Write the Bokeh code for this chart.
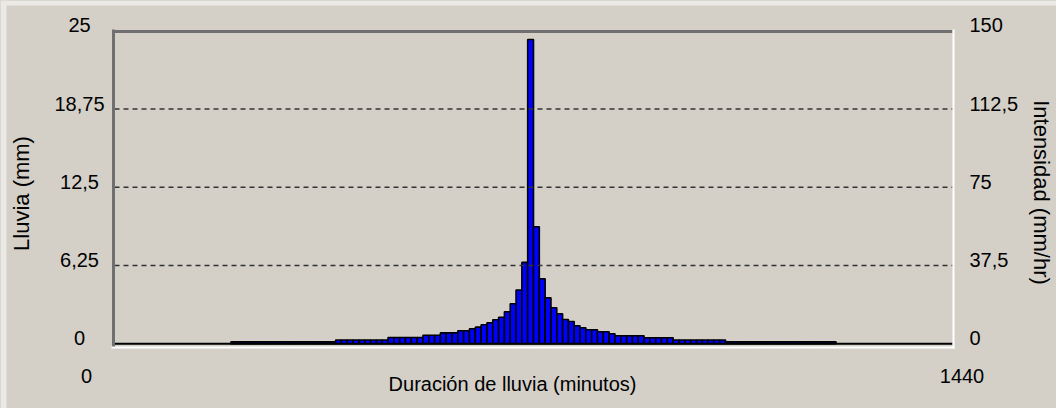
import math
from bokeh.plotting import figure
from bokeh.models import Range1d, Label
from bokeh.embed import file_html
from bokeh.resources import INLINE

# ---------------- data ----------------
block_minutes = 10
block_start = list(range(200, 1240, 10))          # start minute of each 10-min block
rain_mm = (
    [0.15] * 18 + [0.3] * 9 + [0.5] * 6 + [0.68] * 3 + [0.87] * 3 + [1.04] * 2 +
    [1.2, 1.33, 1.52, 1.68, 1.92, 2.12, 2.56, 3.2, 4.3, 6.5,
     24.3,
     9.35, 5.2, 3.67, 2.88, 2.4, 1.94, 1.78, 1.44, 1.28, 1.12, 1.12, 0.96, 0.96, 0.8] +
    [0.64] * 5 + [0.48] * 5 + [0.3] * 9 + [0.15] * 19
)
grid_mm = [6.25, 12.5, 18.75]
left_ticks = [0, 6.25, 12.5, 18.75, 25]
left_tick_labels = ["0", "6,25", "12,5", "18,75", "25"]
right_ticks = [0, 37.5, 75, 112.5, 150]
right_tick_labels = ["0", "37,5", "75", "112,5", "150"]
x_ticks = [0, 1440]
x_tick_labels = ["0", "1440"]
x_title = "Duración de lluvia (minutos)"
y_title = "Lluvia (mm)"
y2_title = "Intensidad (mm/hr)"

# ---------------- layout / style ----------------
BG = "#d4d0c8"
FONT = "Liberation Sans"
FS = "20px"
FS_V = "22px"
W, H = 1056, 408
X_MAX, Y_MAX = 1440, 25
X0_PX, X1_PX = 114, 952          # screen px of x = 0 and x = 1440
Y0_PX, Y1_PX = 343.3, 30.3       # screen px of y = 0 and y = 25
KX = (X1_PX - X0_PX) / X_MAX
KY = (Y0_PX - Y1_PX) / Y_MAX
factor = 60 / block_minutes      # mm per block -> mm/hr


def dx(px):
    return (px - X0_PX) / KX


def dy(py):
    return (Y0_PX - py) / KY


x_range = Range1d(dx(0), dx(W))
y_range = Range1d(dy(H), dy(0))

p = figure(width=W, height=H, x_range=x_range, y_range=y_range,
           output_backend="svg", toolbar_location=None,
           x_axis_location=None, y_axis_location=None,
           min_border=0, min_border_left=0, min_border_right=0,
           min_border_top=0, min_border_bottom=0)
p.extra_y_ranges = {"int": Range1d(y_range.start * factor, y_range.end * factor)}
p.background_fill_color = BG
p.border_fill_color = BG
p.outline_line_color = None
p.grid.visible = False

# raised outer edge (light strip top / left)
p.quad(left=[dx(0)], right=[dx(W)], bottom=[dy(5)], top=[dy(0)],
       fill_color="#ebe9e5", line_color=None)
p.quad(left=[dx(0)], right=[dx(6)], bottom=[dy(H)], top=[dy(0)],
       fill_color="#ebe9e5", line_color=None)

# bars
block_end = [s + block_minutes for s in block_start]
p.quad(left=block_start, right=block_end, bottom=0, top=rain_mm,
       fill_color="#0000ff", line_color="black", line_width=1.6)

# baseline
p.segment(x0=[0], y0=[0], x1=[X_MAX], y1=[0], line_color="black", line_width=2)

# dashed grid lines (drawn above bars)
p.segment(x0=[0] * len(grid_mm), y0=grid_mm, x1=[X_MAX] * len(grid_mm), y1=grid_mm,
          line_color="#333333", line_width=1.6, line_dash="5 4")

# sunken plot frame
p.segment(x0=[dx(113)], y0=[dy(347)], x1=[dx(113)], y1=[dy(29)],
          line_color="#707070", line_width=3)
p.segment(x0=[dx(111.5)], y0=[dy(31)], x1=[dx(952)], y1=[dy(31)],
          line_color="#707070", line_width=3)
p.segment(x0=[dx(953)], y0=[dy(348)], x1=[dx(953)], y1=[dy(29)],
          line_color="white", line_width=2)
p.segment(x0=[dx(111)], y0=[dy(347)], x1=[dx(954)], y1=[dy(347)],
          line_color="white", line_width=2)

common = dict(text_font=FONT, text_font_size=FS, text_color="black")
common_v = dict(text_font=FONT, text_font_size=FS_V, text_color="black")

# left tick labels
for v, t in zip(left_ticks, left_tick_labels):
    p.add_layout(Label(x=0, y=v, x_offset=-35, y_offset=5.5, text=t,
                       text_align="center", text_baseline="middle", **common))
# right tick labels
for v, t in zip(right_ticks, right_tick_labels):
    p.add_layout(Label(x=X_MAX, y=v, y_range_name="int", x_offset=17, y_offset=5.5, text=t,
                       text_align="left", text_baseline="middle", **common))
# x tick labels
for v, t, off in zip(x_ticks, x_tick_labels, [-28, 9.5]):
    p.add_layout(Label(x=v, y=0, x_offset=off, y_offset=-32, text=t,
                       text_align="center", text_baseline="middle", **common))

# axis titles (screen px from the frame's left / bottom edge)
p.add_layout(Label(x=512, y=H - 383, x_units="screen", y_units="screen", text=x_title,
                   text_align="center", text_baseline="middle", **common))
p.add_layout(Label(x=21, y=H - 193, x_units="screen", y_units="screen", text=y_title,
                   angle=math.pi / 2, text_align="center", text_baseline="middle", **common_v))
p.add_layout(Label(x=1041, y=H - 192, x_units="screen", y_units="screen", text=y2_title,
                   angle=-math.pi / 2, text_align="center", text_baseline="middle", **common_v))

html = file_html(p, INLINE)
html = html.replace(
    "</head>",
    "<style>html,body{margin:0;padding:0;overflow:hidden;background:%s;}</style></head>" % BG, 1)
open("out.html", "w").write(html)
